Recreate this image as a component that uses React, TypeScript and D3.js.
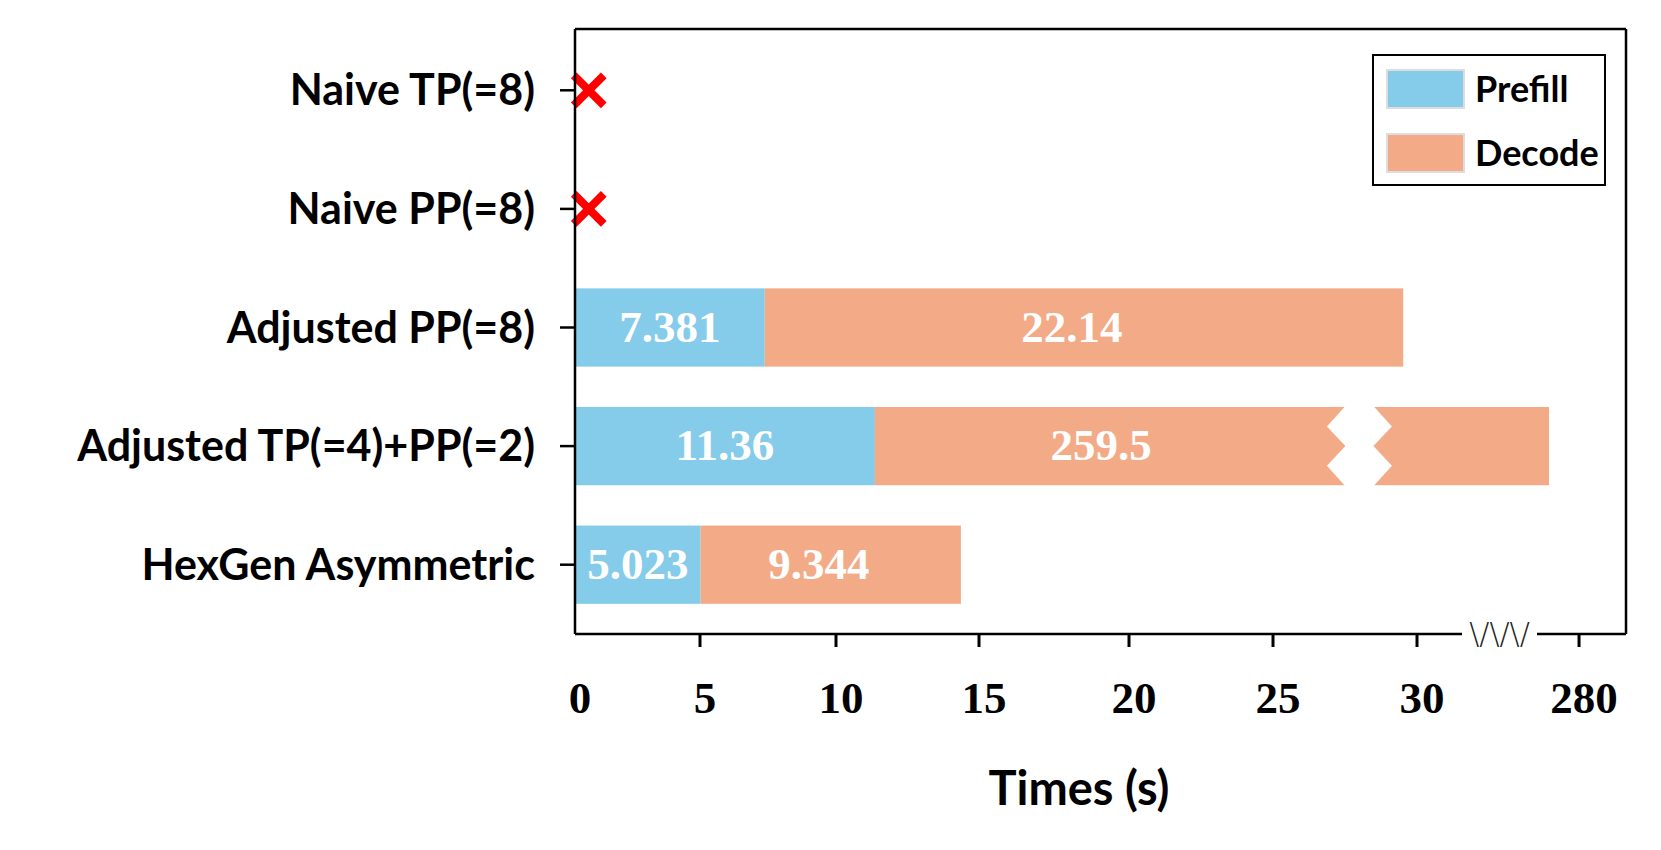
import React, { useEffect } from 'react';
import * as d3 from 'd3';

// ---- data ----
const CATEGORIES = [
  'Naive TP(=8)',
  'Naive PP(=8)',
  'Adjusted PP(=8)',
  'Adjusted TP(=4)+PP(=2)',
  'HexGen Asymmetric',
];
const PREFILL: (number | null)[] = [null, null, 7.381, 11.36, 5.023];
const DECODE: (number | null)[] = [null, null, 22.14, 259.5, 9.344];
const FAILED = [true, true, false, false, false];
const X_TICKS = [0, 5, 10, 15, 20, 25, 30, 280];
const FAIL_MARK_AT = 0.55;
// where the long decode bar is visually cut (value on the first segment)
const BAR_BREAK_AT = 28;
const SERIES = ['Prefill', 'Decode'];

const W = 1661;
const H = 850;
const M = { left: 575, right: 1626, top: 29, bottom: 634 };
const COLORS = { Prefill: '#85cbea', Decode: '#f2ab86' };
const SANS = 'Lato, "DejaVu Sans Condensed", sans-serif';
const SERIF = '"Liberation Serif", "DejaVu Serif", serif';

// broken x axis: 0..30 on the left segment, ~267..294 after the break
const x = d3
  .scaleLinear()
  .domain([0, 5, 10, 15, 20, 25, 30, 31.56, 267.2, 294.3])
  .range([575, 700, 836, 979, 1129, 1273, 1417, 1462, 1537, 1626]);
const AXIS_BREAK = [31.56, 267.2];

const y = d3
  .scaleBand<string>()
  .domain(CATEGORIES)
  .range([31, 624])
  .paddingInner(0.34)
  .paddingOuter(0.17);

export default function App() {
  useEffect(() => {
    document.body.style.margin = '0';
  }, []);

  const bw = y.bandwidth();

  return (
    <svg width={W} height={H} style={{ display: 'block', background: '#fff' }}>
      {/* bars */}
      {CATEGORIES.map((c, i) => {
        const top = y(c)!;
        const cy = top + bw / 2;
        if (FAILED[i]) {
          const cx = x(FAIL_MARK_AT);
          const r = 15;
          return (
            <path
              key={c}
              d={`M${cx - r},${cy - r}L${cx + r},${cy + r}M${cx - r},${cy + r}L${cx + r},${cy - r}`}
              stroke="#ff0000"
              strokeWidth={8}
              fill="none"
            />
          );
        }
        const p = PREFILL[i]!;
        const d = DECODE[i]!;
        const x0 = x(0);
        const x1 = x(p);
        const x2 = x(p + d);
        const broken = p + d > AXIS_BREAK[1];
        const bx = x(BAR_BREAK_AT);
        const decodeLabelX = broken ? (x1 + bx - 32) / 2 : (x1 + x2) / 2 - 12;
        const narrow = 14;
        const wide = 32.5;
        const zig = broken
          ? [
              [bx - narrow, top - 1],
              [bx - wide, top + bw / 4],
              [bx - narrow, top + bw / 2],
              [bx - wide, top + (3 * bw) / 4],
              [bx - narrow, top + bw + 1],
              [bx + narrow, top + bw + 1],
              [bx + wide, top + (3 * bw) / 4],
              [bx + narrow, top + bw / 2],
              [bx + wide, top + bw / 4],
              [bx + narrow, top - 1],
            ]
          : null;
        return (
          <g key={c}>
            <rect x={x0} y={top} width={x1 - x0} height={bw} fill={COLORS.Prefill} />
            <rect x={x1} y={top} width={x2 - x1} height={bw} fill={COLORS.Decode} />
            {zig && <polygon points={zig.map((pt) => pt.join(',')).join(' ')} fill="#fff" />}
            <text
              x={(x0 + x1) / 2}
              y={cy + 14}
              textAnchor="middle"
              fill="#fff"
              fontFamily={SERIF}
              fontWeight="bold"
              fontSize={45}
            >
              {p}
            </text>
            <text
              x={decodeLabelX}
              y={cy + 14}
              textAnchor="middle"
              fill="#fff"
              fontFamily={SERIF}
              fontWeight="bold"
              fontSize={45}
            >
              {d}
            </text>
          </g>
        );
      })}

      {/* frame */}
      <g stroke="#000" strokeWidth={2.5} fill="none">
        <line x1={M.left} x2={M.right} y1={M.top} y2={M.top} />
        <line x1={M.left} x2={M.left} y1={M.top} y2={M.bottom} />
        <line x1={M.right} x2={M.right} y1={M.top} y2={M.bottom} />
        <line x1={M.left} x2={x(AXIS_BREAK[0])} y1={M.bottom} y2={M.bottom} />
        <line x1={x(AXIS_BREAK[1])} x2={M.right} y1={M.bottom} y2={M.bottom} />
      </g>
      <text
        x={(x(AXIS_BREAK[0]) + x(AXIS_BREAK[1])) / 2}
        y={M.bottom + 10}
        textAnchor="middle"
        fontFamily='"DejaVu Sans", sans-serif'
        fontWeight={200}
        fontSize={30}
        fill="#222"
      >
        {'\\/\\/\\/'}
      </text>

      {/* x ticks */}
      {X_TICKS.map((t) => (
        <g key={t} transform={`translate(${x(t)},${M.bottom})`}>
          {t !== 0 && <line y1={0} y2={13} stroke="#000" strokeWidth={3} />}
          <text
            x={5}
            y={79}
            textAnchor="middle"
            fontFamily={SERIF}
            fontWeight="bold"
            fontSize={45}
            fill="#000"
          >
            {t}
          </text>
        </g>
      ))}

      {/* y ticks and labels */}
      {CATEGORIES.map((c) => {
        const cy = y(c)! + bw / 2;
        return (
          <g key={c} transform={`translate(${M.left},${cy})`}>
            <line x1={-15} x2={0} stroke="#000" strokeWidth={2.5} />
            <text
              x={-40}
              y={15}
              textAnchor="end"
              fontFamily={SANS}
              fontWeight="bold"
              fontSize={43}
              fill="#000"
            >
              {c}
            </text>
          </g>
        );
      })}

      {/* x title */}
      <text
        x={1079}
        y={805}
        textAnchor="middle"
        fontFamily={SANS}
        fontWeight="bold"
        fontSize={47}
        fill="#000"
      >
        Times (s)
      </text>

      {/* legend */}
      <g transform="translate(1373,55)">
        <rect width={232} height={130} fill="#fff" stroke="#000" strokeWidth={2} />
        {SERIES.map((s, i) => (
          <g key={s} transform={`translate(14,${15 + i * 64})`}>
            <rect
              width={77}
              height={38}
              fill={COLORS[s as keyof typeof COLORS]}
              stroke="#dddddd"
              strokeWidth={2}
            />
            <text x={88} y={32} fontFamily={SANS} fontWeight="bold" fontSize={36} fill="#000">
              {s}
            </text>
          </g>
        ))}
      </g>
    </svg>
  );
}
